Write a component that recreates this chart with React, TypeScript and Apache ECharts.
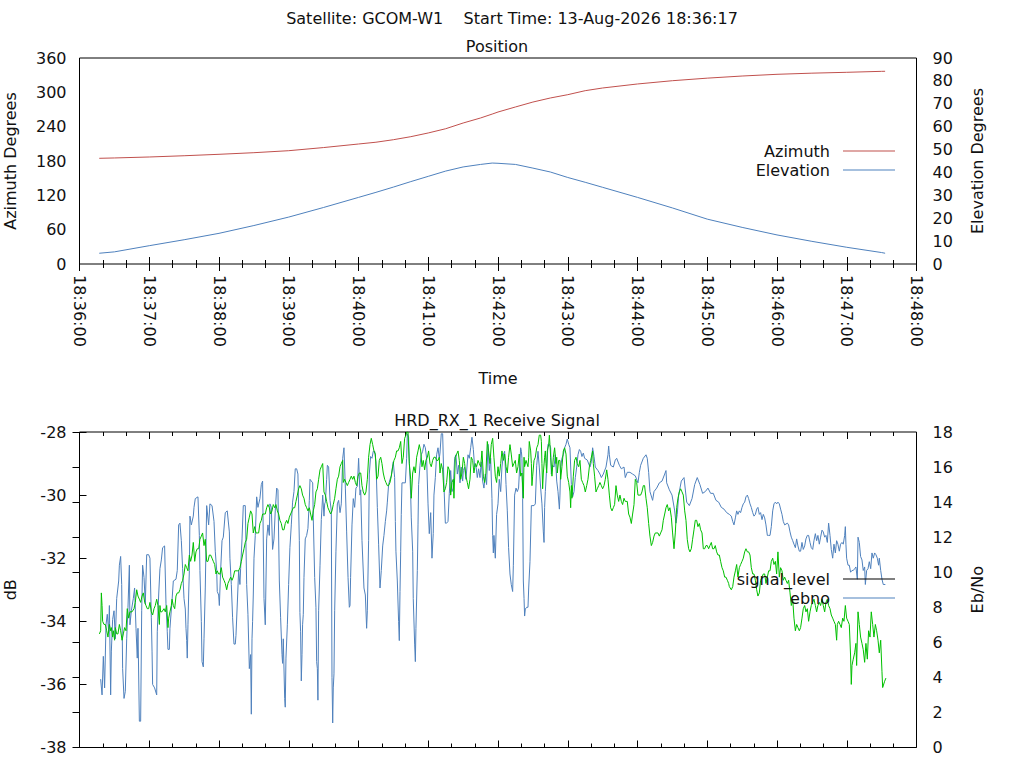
import React, { useEffect, useRef } from 'react';
import * as echarts from 'echarts';

// ---------- data ----------
const MAIN_TITLE = 'Satellite: GCOM-W1    Start Time: 13-Aug-2026 18:36:17';
const TOP_TITLE = 'Position';
const BOTTOM_TITLE = 'HRD_RX_1 Receive Signal';

// seconds after 18:36:00
const POS_TIMES = [17, 30, 60, 90, 120, 150, 180, 210, 240, 255, 270, 285, 300, 315, 330, 345, 355, 360, 375, 390, 405, 420, 435, 450, 480, 510, 540, 570, 600, 630, 660, 690, 693];
const AZIMUTH = [184.7, 185.3, 187.0, 189.2, 191.7, 194.5, 198.0, 203.5, 209.7, 212.8, 217.2, 222.5, 229.0, 236.4, 246.4, 255.2, 262.0, 265.6, 274.4, 283.0, 290.1, 295.9, 302.9, 307.6, 314.6, 320.3, 324.8, 328.5, 331.5, 333.5, 335.0, 336.7, 336.8];
const ELEVATION = [4.7, 5.3, 8.0, 10.6, 13.4, 16.8, 20.5, 24.7, 29.1, 31.3, 33.6, 36.0, 38.3, 40.6, 42.4, 43.5, 44.1, 44.0, 43.5, 41.9, 40.2, 37.8, 35.7, 33.5, 29.1, 24.5, 19.6, 16.0, 12.7, 9.9, 7.3, 5.0, 4.7];

const X_TICKS_SECONDS = [0, 720, 60]; // min, max, step
const AZ_AXIS = [0, 360, 60];
const EL_AXIS = [0, 90, 10];
const DB_AXIS = [-38, -28, 2];
const EBNO_AXIS = [0, 18, 2];

// [seconds after 18:36:00, Eb/No]
const EBNO_POINTS: [number, number][] = [
  [18.2,3.9],[19.4,3.0],[20.5,5.2],[21.6,3.4],[22.8,7.0],[23.9,7.6],[25.1,6.6],[25.7,8.1],[26.8,3.0],[27.4,5.5],[28.5,7.3],[29.7,7.8],[30.8,6.2],[32.0,8.5],[33.7,9.5],[34.3,10.4],[35.4,10.9],[36.3,9.3],[37.1,4.5],[38.3,2.8],[39.4,3.2],[40.6,6.2],[41.7,8.0],[42.9,10.4],[43.4,7.0],[44.6,7.8],[46.3,8.5],[47.4,9.1],[48.6,6.8],[49.7,5.1],[50.3,6.8],[51.5,1.5],[52.6,1.5],[53.5,7.8],[54.3,10.4],[55.5,9.7],[56.6,8.2],[57.8,11.0],[59.5,11.0],[60.6,10.8],[61.8,7.4],[62.4,5.5],[62.9,3.6],[64.6,3.4],[66.4,3.0],[66.9,6.6],[68.1,8.7],[69.2,10.2],[70.4,10.7],[71.5,11.4],[73.2,11.5],[74.4,8.2],[75.5,6.6],[76.1,5.6],[77.3,5.6],[77.8,6.8],[79.6,8.4],[80.7,9.5],[83.0,9.6],[84.1,10.1],[85.3,12.7],[86.4,12.8],[87.6,11.8],[88.7,10.2],[89.9,8.5],[91.0,7.9],[91.6,6.8],[92.2,6.1],[92.7,5.1],[93.3,7.0],[93.9,8.7],[94.5,10.1],[95.0,13.2],[96.2,12.7],[97.9,13.2],[98.5,13.7],[99.6,14.2],[101.9,14.3],[103.1,12.1],[103.6,10.1],[104.8,7.2],[105.4,4.9],[106.5,4.6],[107.1,6.2],[108.2,9.1],[109.4,13.8],[111.1,12.7],[112.2,13.9],[114.0,13.8],[115.7,12.9],[116.8,11.2],[118.0,10.1],[118.5,8.9],[119.7,8.7],[120.3,8.1],[121.4,10.1],[122.6,11.8],[123.7,12.0],[125.4,13.4],[127.1,13.5],[128.9,12.3],[129.4,10.8],[130.6,9.3],[131.7,7.4],[132.9,5.9],[134.0,5.9],[134.6,6.4],[135.8,8.3],[136.9,10.1],[138.0,9.3],[138.6,10.2],[139.8,11.9],[140.9,13.8],[142.6,13.8],[143.8,9.3],[144.9,7.6],[146.1,4.5],[147.2,5.3],[147.8,1.9],[148.4,6.2],[148.9,7.2],[149.5,8.7],[150.1,10.8],[151.2,12.1],[152.4,14.3],[153.5,13.7],[155.2,14.2],[156.4,15.0],[157.5,15.2],[158.7,8.5],[159.8,7.0],[161.0,11.9],[162.1,12.7],[163.3,12.1],[163.8,13.9],[165.0,13.7],[166.1,11.3],[167.3,11.9],[168.4,13.5],[169.6,14.8],[170.7,14.7],[171.9,9.5],[173.0,7.4],[174.2,5.3],[174.7,4.8],[175.3,6.2],[176.5,2.8],[177.0,2.3],[177.6,5.1],[178.8,7.0],[179.9,9.3],[181.0,11.4],[182.2,12.7],[183.3,14.0],[184.5,14.6],[185.6,15.9],[186.8,15.9],[187.9,15.6],[189.1,11.8],[189.6,7.7],[190.2,6.6],[190.8,3.8],[191.4,5.3],[191.9,7.0],[192.5,7.6],[193.1,9.7],[194.2,11.9],[195.4,12.1],[196.5,12.5],[197.7,14.1],
  [198.3,15.3],[199.4,15.2],[200.6,15.1],[201.1,13.1],[202.3,9.7],[203.4,8.0],[204.0,4.9],[204.6,4.5],[205.1,2.7],[205.7,7.8],[206.9,10.4],[208.0,13.0],[209.2,14.4],[210.3,13.2],[210.9,13.9],[211.5,14.0],[212.6,15.3],[213.2,16.1],[214.3,16.0],[215.5,14.1],[216.6,13.5],[217.2,4.0],[217.8,1.4],[218.3,3.4],[218.9,4.2],[219.5,7.8],[220.6,11.2],[221.8,13.9],[222.9,14.1],[224.1,13.4],[225.2,13.9],[226.4,16.5],[227.5,17.1],[228.7,14.8],[229.8,12.3],[231.0,9.7],[232.1,8.0],[232.7,8.1],[233.2,9.7],[234.4,12.7],[235.5,14.2],[236.7,13.7],[237.8,14.8],[239.0,14.9],[240.1,16.5],[241.3,14.4],[241.9,14.7],[243.0,11.8],[244.7,9.1],[245.9,8.7],[247.0,6.8],[247.6,7.8],[248.7,11.8],[249.3,15.6],[250.4,16.6],[251.6,16.5],[252.7,16.9],[253.9,16.9],[255.0,16.3],[256.2,13.7],[257.3,11.6],[258.5,9.1],[259.6,10.1],[260.8,11.5],[261.9,12.1],[263.1,12.9],[264.2,13.5],[264.8,14.0],[265.9,15.0],[267.1,15.3],[268.2,15.5],[269.9,16.3],[271.1,15.4],[271.7,12.9],[272.2,11.2],[273.4,9.5],[274.5,7.2],[275.1,6.1],[275.7,8.9],[276.3,11.2],[276.8,13.3],[277.4,15.1],[280.3,15.1],[281.4,16.5],[282.0,17.9],[283.1,17.7],[283.7,16.3],[284.9,14.4],[285.4,13.1],[286.6,11.2],[287.1,8.5],[288.3,5.9],[288.9,4.9],[289.4,6.8],[290.6,10.1],[291.2,12.7],[291.7,15.0],[292.9,16.1],[294.0,16.7],[295.2,16.9],[296.3,17.3],[297.5,17.1],[298.6,16.5],[299.8,13.9],[300.9,12.2],[302.1,13.4],[303.2,10.8],[304.3,12.2],[304.9,14.4],[306.1,15.4],[307.2,16.7],[308.4,17.1],[309.5,16.5],[310.1,16.8],[311.2,17.9],[312.4,17.9],[313.5,15.0],[314.7,12.8],[315.8,12.8],[317.0,12.9],[318.1,14.5],[319.3,15.8],[320.4,14.6],[321.5,14.8],[322.7,16.5],[323.8,16.7],[325.0,15.6],[326.1,16.1],[327.3,15.1],[328.4,16.0],[329.6,15.2],[330.2,15.8],[331.3,16.0],[332.4,15.3],[334.2,16.7],[335.3,16.5],[336.5,17.1],[337.6,17.7],[338.8,17.0],[339.9,16.0],[341.0,16.1],[342.2,15.4],[343.3,15.9],[344.5,15.4],[345.6,16.3],[346.8,15.2],[347.9,14.8],[349.1,15.6],[350.2,15.0],[351.4,17.3],[352.5,15.8],[353.7,16.5],[354.8,14.2],[355.4,12.1],[356.0,11.1],[356.5,12.1],[357.7,10.8],[358.8,13.3],[360.0,13.9],[361.1,15.3],[362.3,14.6],[363.4,16.0],[364.6,16.7],[365.7,16.9],[366.9,15.0],[368.0,13.5],[369.1,11.4],[370.3,9.9],[371.4,9.3],[372.6,8.9],[373.2,10.4],[374.3,14.4],[375.5,14.8],[376.6,14.6],[377.7,14.8],
  [379.5,17.1],[380.1,16.9],[380.6,16.5],[381.2,14.2],[381.8,9.5],[382.4,8.5],[382.9,7.5],[383.5,7.9],[384.7,8.0],[385.8,8.0],[386.4,9.1],[387.5,10.6],[388.7,13.8],[391.0,13.8],[392.1,13.9],[393.3,16.1],[394.4,16.9],[395.5,16.0],[396.7,14.8],[397.8,13.9],[399.0,12.3],[399.6,11.7],[400.1,13.7],[400.7,14.6],[401.9,16.0],[403.0,17.3],[404.2,17.3],[405.3,17.1],[405.9,15.6],[407.0,16.1],[408.2,16.0],[409.3,16.7],[410.5,15.2],[411.6,14.6],[412.8,13.6],[413.3,14.4],[413.9,16.0],[415.0,16.5],[416.2,16.7],[417.3,17.1],[418.5,17.3],[419.6,17.6],[420.8,17.3],[421.9,17.1],[423.1,15.0],[424.2,14.3],[425.4,14.6],[426.5,15.4],[427.7,16.0],[428.8,16.7],[430.0,17.0],[431.1,16.9],[432.2,16.6],[433.4,16.8],[434.5,16.5],[436.8,16.4],[439.1,16.0],[440.3,16.3],[441.4,17.1],[442.6,16.6],[443.7,16.0],[446.0,15.8],[447.7,15.6],[448.9,15.4],[450.6,15.6],[452.9,16.0],[454.6,16.7],[455.2,17.2],[455.8,16.7],[456.9,16.1],[459.2,16.0],[460.9,16.4],[462.1,16.5],[464.4,16.1],[466.1,15.9],[468.4,16.0],[469.5,15.4],[471.2,15.7],[473.5,15.7],[475.8,15.6],[478.1,15.5],[480.4,15.1],[481.6,15.7],[482.7,16.1],[485.0,16.5],[487.3,16.7],[488.4,16.5],[489.6,15.7],[490.7,14.6],[493.0,14.1],[494.2,14.6],[496.5,14.8],[498.8,15.1],[501.1,15.2],[503.4,15.6],[504.5,15.8],[505.1,15.1],[507.4,14.7],[509.7,14.4],[512.0,13.5],[513.1,12.8],[514.2,13.3],[515.4,14.4],[517.7,15.2],[520.0,15.4],[522.3,14.0],[524.6,13.8],[526.9,14.2],[529.2,15.0],[531.4,15.4],[533.7,15.0],[536.0,14.5],[538.3,14.6],[540.6,14.8],[542.9,14.5],[545.2,14.5],[547.5,14.1],[549.8,14.0],[552.1,13.7],[554.4,13.6],[556.7,13.4],[559.0,13.3],
  [560.7,13.2],[561.9,12.9],[563.0,12.7],[564.2,13.1],[565.3,13.5],[566.4,13.3],[567.6,13.5],[568.7,13.4],[569.9,13.7],[571.0,13.9],[572.2,14.0],[573.3,14.3],[574.5,14.4],[575.6,14.2],[576.8,13.9],[577.9,13.7],[579.1,13.4],[580.2,13.2],[581.4,13.3],[582.5,13.6],[583.6,13.7],[584.8,13.3],[585.9,13.4],[587.1,13.0],[588.2,13.3],[589.4,13.1],[590.5,12.7],[591.7,12.1],[592.8,12.1],[594.0,12.1],[595.1,12.6],[596.3,13.5],[597.4,13.9],[598.6,14.0],[599.7,13.9],[600.8,14.0],[602.0,13.9],[603.1,13.6],[604.3,13.3],[605.4,12.9],[606.6,12.7],[608.9,12.8],[610.0,12.7],[611.2,12.3],[612.3,12.0],[613.5,11.8],[614.6,11.6],[615.8,11.4],[616.9,11.9],[618.0,11.5],[619.2,11.2],[620.3,11.2],[621.5,11.7],[622.6,11.3],[623.8,11.5],[624.9,11.9],[626.1,12.1],[627.2,12.1],[628.4,11.7],[629.5,11.4],[630.7,11.3],[631.8,11.8],[633.0,12.2],[634.1,11.8],[635.2,12.1],[636.4,11.6],[637.5,12.0],[638.7,12.4],[639.8,12.3],[641.0,12.0],[642.1,12.1],[643.3,11.7],[644.4,12.8],[645.6,12.1],[646.7,11.3],[647.9,10.8],[649.0,11.6],[650.2,11.1],[651.3,11.8],[652.4,11.6],[653.6,11.2],[654.7,11.6],[655.9,11.7],[657.0,11.6],[658.2,12.1],[658.8,12.6],[659.3,11.6],[659.9,10.8],[661.1,10.4],[662.2,10.4],[663.3,10.0],[664.5,10.1],[665.6,10.1],[666.8,10.2],[667.9,10.3],[669.1,9.6],[669.7,12.0],[670.8,11.7],[671.9,10.9],[673.1,10.7],[674.2,10.1],[675.4,10.3],[676.0,9.3],[677.1,10.1],[678.3,10.2],[679.4,10.6],[680.6,10.2],[681.7,11.1],[682.8,10.8],[684.0,11.1],[685.1,11.0],[686.3,10.8],[687.4,10.4],[688.0,10.8],[689.2,10.1],[690.3,9.6],[691.4,9.3],[693.2,9.3]
];

// [seconds after 18:36:00, signal level dB]
const SIGNAL_POINTS: [number, number][] = [
  [17.1,-34.4],[18.2,-34.3],[18.8,-33.1],[19.4,-33.5],[19.9,-34.0],[21.1,-34.1],[22.2,-34.1],[23.4,-34.3],[24.5,-34.5],[25.7,-34.1],[26.8,-34.3],[27.4,-34.2],[28.5,-34.5],[29.1,-34.3],[30.2,-34.6],[30.8,-34.2],[32.0,-34.4],[33.1,-34.4],[34.3,-34.1],[35.4,-34.3],[36.6,-34.6],[37.7,-34.4],[38.8,-34.2],[40.0,-34.3],[41.1,-33.6],[42.3,-33.9],[43.4,-33.7],[45.2,-33.7],[46.9,-33.6],[48.0,-33.4],[49.2,-33.0],[50.3,-33.2],[51.5,-33.3],[52.6,-33.4],[53.8,-33.2],[54.9,-33.1],[56.1,-33.4],[57.2,-33.5],[58.3,-33.6],[59.5,-33.6],[60.6,-33.4],[61.8,-33.7],[62.9,-33.8],[64.1,-33.6],[65.2,-33.5],[66.4,-33.3],[67.5,-33.5],[68.7,-34.1],[69.2,-33.5],[69.8,-33.7],[70.9,-33.7],[72.7,-33.6],[73.8,-33.7],[75.0,-33.5],[76.1,-34.2],[76.7,-33.9],[77.8,-33.7],[79.0,-33.5],[79.6,-33.3],[80.7,-33.5],[81.9,-33.6],[83.0,-33.2],[84.1,-33.1],[85.3,-33.1],[86.4,-33.0],[87.6,-32.8],[88.7,-32.7],[89.9,-32.5],[91.0,-32.2],[92.2,-32.3],[93.3,-32.4],[94.5,-31.9],[95.6,-32.1],[96.8,-31.9],[97.9,-31.5],[99.1,-32.1],[100.2,-31.8],[101.3,-31.7],[102.5,-31.7],[103.6,-31.4],[104.8,-31.3],[105.9,-31.2],[107.1,-31.6],[108.2,-31.4],[109.4,-32.1],[110.5,-32.1],[111.7,-31.9],[112.8,-31.9],[114.0,-32.0],[115.1,-32.1],[116.3,-32.2],[117.4,-32.5],[118.5,-32.4],[119.7,-32.5],[120.8,-32.5],[122.0,-32.3],[123.1,-32.6],[124.3,-32.7],[125.4,-32.8],[126.6,-33.0],[127.7,-32.8],[128.9,-32.7],[130.0,-32.6],[131.2,-32.7],[132.3,-32.6],[133.5,-32.4],[134.6,-32.4],[135.8,-32.4],[136.9,-32.4],[138.0,-32.3],[139.2,-32.1],[140.3,-31.9],[141.5,-31.7],[142.6,-31.5],[143.8,-31.4],[144.9,-30.9],[146.1,-30.7],[147.2,-30.5],[148.4,-30.6],[149.5,-31.2],[150.7,-31.0],[151.8,-31.2],[153.0,-31.2],[154.1,-31.2],[155.2,-30.9],[156.4,-30.8],[157.5,-30.6],[158.7,-30.6],[159.8,-30.6],[161.0,-30.4],[162.1,-30.3],[163.3,-30.4],[164.4,-30.6],[165.6,-30.5],[166.7,-30.3],[167.9,-30.4],[169.0,-30.3],[170.2,-30.5],[171.3,-30.6],[172.4,-30.8],[173.6,-30.9],[174.7,-31.1],[175.9,-31.1],[177.0,-30.9],[178.2,-30.8],[179.3,-30.9],[180.5,-30.7],[181.6,-30.6],[182.8,-30.5],[183.9,-30.4],[185.1,-30.4],[186.2,-30.2],[187.4,-30.0],[188.5,-29.8],[189.6,-29.7],[190.8,-29.8],[191.9,-30.0],[193.1,-30.1],[194.2,-30.3],[195.4,-30.4],[196.5,-30.5],[197.7,-30.4],
  [198.8,-30.6],[200.0,-30.8],[201.1,-30.5],[202.3,-30.3],[203.4,-29.9],[204.6,-29.8],[205.7,-29.5],[206.9,-29.2],[208.0,-29.1],[209.2,-29.0],[210.3,-29.9],[211.5,-30.0],[212.6,-30.2],[213.7,-30.4],[214.9,-30.5],[216.0,-30.6],[217.2,-30.5],[218.3,-30.3],[219.5,-30.1],[220.6,-29.8],[221.8,-29.5],[222.9,-29.4],[224.1,-29.1],[225.2,-29.0],[226.4,-28.9],[226.9,-29.6],[228.1,-29.5],[229.2,-29.6],[230.4,-29.7],[231.5,-29.6],[232.7,-29.5],[233.8,-29.4],[235.0,-29.5],[236.1,-29.4],[237.3,-29.6],[238.4,-29.7],[239.6,-29.4],[240.7,-29.3],[241.9,-29.3],[243.0,-29.7],[244.1,-29.9],[245.3,-30.0],[246.4,-29.9],[247.6,-29.5],[248.7,-28.8],[249.9,-28.4],[251.0,-28.2],[252.2,-28.4],[253.3,-28.6],[254.5,-28.7],[255.6,-29.5],[256.8,-29.4],[257.9,-28.9],[259.1,-28.8],[260.2,-29.0],[261.3,-29.3],[262.5,-29.5],[263.6,-29.6],[264.8,-29.7],[265.9,-29.7],[267.1,-29.6],[268.2,-29.4],[269.4,-29.1],[270.5,-28.9],[271.7,-28.8],[272.8,-28.6],[274.0,-28.6],[275.1,-28.5],[276.3,-28.3],[277.4,-29.0],[278.5,-28.8],[279.7,-28.2],[280.8,-28.1],[281.4,-28.0],[282.6,-28.0],[283.7,-29.0],[284.9,-29.5],[285.4,-30.1],[286.6,-29.3],[287.7,-29.1],[288.9,-29.3],[290.0,-28.8],[291.2,-28.6],[292.3,-28.4],[293.5,-28.6],[294.6,-29.1],[295.7,-28.9],[296.9,-29.2],[298.0,-28.9],[299.2,-28.8],[300.3,-28.6],[301.5,-29.0],[302.6,-29.1],[303.8,-28.9],[304.9,-28.8],[306.1,-28.8],[307.2,-28.9],[308.4,-28.9],[309.5,-28.8],[310.1,-29.3],[311.2,-29.0],[312.4,-29.2],[313.5,-29.9],[314.7,-29.8],[315.8,-29.6],[317.0,-29.1],[318.1,-29.2],[319.3,-30.0],[320.4,-29.6],[321.5,-29.5],[322.1,-30.1],[323.3,-28.8],[324.4,-28.7],[325.6,-28.6],[326.7,-28.9],[327.9,-29.5],[329.0,-29.3],[330.2,-28.8],[331.3,-29.0],[332.4,-29.4],[333.6,-29.6],[334.7,-29.8],[335.9,-29.5],[337.0,-28.8],[338.2,-28.9],[339.3,-29.3],[340.5,-29.0],[341.6,-29.1],[342.8,-28.9],[343.9,-29.0],[345.1,-29.1],[346.2,-28.6],[347.4,-29.4],[348.5,-29.6],[349.6,-29.3],[350.8,-28.3],[351.9,-28.6],[353.1,-29.0],[354.2,-28.4],[355.4,-28.2],[356.5,-28.8],[357.7,-29.4],[358.8,-29.6],[360.0,-29.1],[361.1,-29.4],[362.3,-29.0],[363.4,-28.6],[364.6,-28.9],[365.7,-28.7],[366.9,-29.1],[368.0,-29.3],[369.1,-28.8],[370.3,-28.4],[371.4,-28.7],[372.6,-29.1],[373.7,-29.0],[374.9,-28.9],[376.0,-29.3],[377.2,-29.1],[378.3,-28.7],
  [379.5,-29.4],[380.6,-29.3],[381.8,-30.1],[382.4,-28.8],[382.9,-29.1],[384.1,-28.9],[385.8,-29.1],[386.4,-28.8],[386.9,-28.3],[388.1,-28.6],[388.7,-29.0],[389.2,-29.7],[389.8,-29.4],[391.0,-28.9],[392.1,-28.8],[393.3,-28.5],[394.4,-28.4],[395.5,-28.1],[396.7,-28.1],[397.3,-28.3],[397.8,-29.0],[398.4,-29.8],[399.0,-29.3],[400.1,-28.8],[400.7,-28.6],[401.3,-29.0],[401.9,-29.3],[402.4,-28.6],[403.6,-28.4],[404.2,-28.1],[404.7,-28.4],[405.3,-28.8],[406.4,-29.4],[407.6,-28.8],[408.7,-28.5],[409.9,-29.0],[410.5,-28.8],[411.0,-29.3],[412.2,-28.9],[413.3,-28.9],[413.9,-29.5],[415.0,-29.1],[416.2,-28.6],[417.3,-28.5],[418.5,-28.7],[419.6,-29.4],[420.8,-29.6],[421.9,-29.9],[422.5,-30.4],[423.1,-29.7],[423.6,-30.1],[424.8,-29.4],[425.9,-28.9],[427.1,-28.8],[428.2,-29.0],[429.4,-29.1],[430.5,-28.9],[431.7,-29.5],[432.8,-29.6],[434.0,-29.7],[435.1,-29.9],[436.3,-29.7],[437.4,-29.5],[438.6,-29.1],[439.7,-28.9],[440.9,-28.7],[441.4,-28.6],[442.0,-29.0],[443.1,-29.4],[444.3,-29.9],[445.4,-29.8],[446.6,-29.7],[447.7,-29.6],[448.9,-29.7],[450.0,-29.8],[451.2,-29.7],[452.3,-29.5],[453.5,-29.2],[454.6,-29.5],[455.8,-30.0],[456.9,-30.4],[458.1,-30.5],[459.2,-30.4],[460.3,-30.3],[461.5,-29.7],[462.6,-30.0],[463.8,-30.2],[464.9,-30.0],[466.1,-30.2],[467.2,-30.3],[468.4,-30.1],[469.5,-30.2],[471.2,-30.2],[472.4,-30.6],[473.5,-30.7],[474.7,-30.9],[475.8,-30.6],[477.0,-30.3],[478.1,-29.5],[479.3,-29.6],[480.4,-30.0],[482.7,-30.0],[483.8,-29.9],[485.0,-29.7],[486.1,-29.7],[487.3,-30.1],[488.4,-30.4],[489.6,-30.9],[490.7,-31.3],[491.9,-31.6],[493.0,-31.5],[494.2,-31.3],[495.3,-31.2],[497.6,-31.2],[498.8,-31.3],[499.9,-31.2],[501.1,-31.1],[502.2,-30.8],[503.4,-30.6],[504.5,-30.4],[505.6,-30.3],[506.8,-30.5],[507.9,-30.4],[509.1,-30.7],[510.2,-31.2],[511.4,-31.7],[512.5,-31.2],[513.7,-30.4],[514.8,-30.1],[516.0,-29.9],[517.1,-29.8],[518.3,-29.9],[519.4,-30.0],[520.6,-30.5],[521.7,-30.8],[522.8,-31.4],[524.0,-31.7],[525.1,-31.8],[526.3,-31.7],[527.4,-31.4],[528.6,-31.1],[529.7,-30.8],[530.9,-30.8],[532.0,-31.0],[533.2,-30.9],[534.3,-31.1],[535.5,-31.2],[536.6,-31.7],[537.8,-31.7],[538.9,-31.6],[540.0,-31.6],[541.2,-31.7],[542.3,-31.6],[543.5,-31.5],[544.6,-31.7],[545.8,-31.7],[546.9,-31.6],[548.1,-31.8],[549.2,-31.9],[550.4,-31.9],[551.5,-32.1],[552.7,-32.3],[553.8,-32.4],[555.0,-32.6],[556.1,-32.6],[557.3,-32.7],[558.4,-32.8],[559.0,-32.9],
  [560.7,-33.0],[561.9,-32.9],[563.0,-32.6],[564.2,-32.4],[565.3,-32.2],[566.4,-32.6],[567.6,-32.3],[568.7,-32.2],[569.9,-32.1],[571.0,-32.0],[572.2,-31.8],[573.3,-31.7],[574.5,-31.8],[575.6,-31.8],[576.8,-31.9],[577.9,-32.3],[579.1,-32.5],[580.2,-32.5],[581.4,-32.7],[582.5,-33.0],[583.6,-33.2],[584.8,-33.1],[585.9,-32.7],[587.1,-32.6],[588.2,-32.5],[589.4,-32.5],[590.5,-32.8],[591.7,-32.6],[592.8,-32.4],[594.0,-32.4],[595.1,-32.1],[596.3,-32.0],[597.4,-32.2],[598.6,-32.1],[599.7,-32.5],[600.8,-31.8],[602.0,-32.6],[603.1,-32.3],[604.3,-32.4],[605.4,-32.7],[606.6,-32.6],[607.7,-32.7],[608.9,-32.8],[610.0,-32.7],[611.2,-33.1],[612.3,-33.5],[613.5,-33.3],[614.6,-33.9],[615.8,-34.3],[616.9,-34.1],[618.0,-34.2],[619.2,-34.3],[620.3,-34.2],[621.5,-33.9],[622.6,-33.6],[623.8,-33.5],[624.9,-33.7],[626.1,-33.6],[627.2,-34.0],[628.4,-33.7],[629.5,-33.5],[630.7,-33.4],[631.8,-33.3],[633.0,-33.5],[634.1,-33.7],[635.2,-33.5],[636.4,-33.4],[637.5,-33.5],[638.7,-33.3],[639.8,-33.5],[641.0,-33.7],[642.1,-33.4],[643.3,-33.3],[644.4,-33.5],[645.6,-33.6],[646.7,-33.8],[647.9,-33.9],[649.0,-34.0],[650.2,-34.1],[651.3,-34.6],[651.9,-34.1],[653.0,-34.0],[654.2,-34.1],[655.3,-34.2],[656.5,-33.9],[657.6,-34.0],[658.8,-33.5],[659.9,-33.9],[661.1,-34.0],[662.2,-34.1],[663.3,-35.1],[663.9,-36.0],[664.5,-35.4],[665.6,-35.2],[666.8,-35.0],[667.9,-34.7],[668.5,-35.4],[669.7,-33.7],[670.8,-34.1],[671.9,-34.5],[673.1,-34.7],[674.2,-34.9],[675.4,-35.3],[676.5,-34.7],[677.7,-35.2],[678.8,-34.3],[680.0,-34.5],[681.1,-33.7],[682.3,-34.1],[683.4,-34.5],[684.6,-34.1],[685.7,-34.3],[686.9,-34.6],[688.0,-35.0],[689.2,-34.6],[690.3,-35.6],[690.9,-36.1],[691.4,-36.1],[692.6,-35.9],[693.7,-35.8]
];

// ---------- styling ----------
const FONT = 'DejaVu Sans';
const FS = 16;
const TXT = '#111';
const RED = '#c0504d';
const BLUE = '#4f81bd';
const GREEN = '#00c000';
const BASE_SECONDS = 18 * 3600 + 36 * 60;

const pad = (n: number) => (n < 10 ? '0' + n : '' + n);
const fmtTime = (v: number) => {
  const s = BASE_SECONDS + Math.round(v);
  return pad(Math.floor(s / 3600)) + ':' + pad(Math.floor((s % 3600) / 60)) + ':' + pad(s % 60);
};

const labelStyle = { color: TXT, fontSize: FS, fontFamily: FONT };
const tickStyle = { lineStyle: { color: '#000', width: 1 } };

function xAxis(gridIndex: number, position: 'top' | 'bottom', withLabels: boolean) {
  return {
    type: 'value',
    gridIndex,
    position,
    min: X_TICKS_SECONDS[0],
    max: X_TICKS_SECONDS[1],
    interval: X_TICKS_SECONDS[2],
    axisLine: { show: false },
    axisTick: { show: true, inside: true, length: 7, ...tickStyle },
    minorTick: { show: true, splitNumber: 3, length: 4, ...tickStyle },
    splitLine: { show: false },
    minorSplitLine: { show: false },
    axisLabel: withLabels
      ? { show: true, rotate: -90, margin: 11, formatter: fmtTime, ...labelStyle }
      : { show: false },
    ...(withLabels
      ? { name: 'Time', nameLocation: 'middle', nameGap: 106, nameTextStyle: labelStyle }
      : {}),
  };
}

function yAxis(gridIndex: number, position: 'left' | 'right', range: number[], name: string, gap: number, ticks: boolean, margin: number) {
  return {
    type: 'value',
    gridIndex,
    position,
    min: range[0],
    max: range[1],
    interval: range[2],
    axisLine: { show: false },
    axisTick: { show: ticks, inside: true, length: 7, ...tickStyle },
    splitLine: { show: false },
    axisLabel: { show: true, margin, ...labelStyle },
    name,
    nameLocation: 'middle',
    nameGap: gap,
    nameTextStyle: labelStyle,
  };
}

function legendItem(name: string, top: number, color?: string) {
  return {
    show: true,
    right: 129,
    top,
    orient: 'horizontal',
    align: 'right',
    padding: 0,
    itemGap: 0,
    itemWidth: 52,
    itemHeight: 1,
    icon: 'rect',
    selectedMode: false,
    textStyle: { ...labelStyle, padding: [0, 8, 0, 0] },
    data: [color ? { name, itemStyle: { color } } : { name }],
  };
}

function lineSeries(name: string, data: number[][], xAxisIndex: number, yAxisIndex: number, color: string) {
  return {
    name,
    type: 'line',
    xAxisIndex,
    yAxisIndex,
    data,
    showSymbol: false,
    symbol: 'none',
    lineStyle: { color, width: 1 },
    itemStyle: { color },
    emphasis: { disabled: true },
  };
}

export default function App() {
  const ref = useRef<HTMLDivElement>(null);

  useEffect(() => {
    if (!ref.current) return;
    const chart = echarts.init(ref.current, undefined, { renderer: 'svg' });
    const gridCommon = {
      left: 79.5,
      width: 837,
      show: true,
      borderColor: '#000',
      borderWidth: 1,
      backgroundColor: 'transparent',
      containLabel: false,
      outerBoundsMode: 'none',
    };
    const option: any = {
      animation: false,
      backgroundColor: '#fff',
      textStyle: { fontFamily: FONT },
      graphic: [
        { type: 'text', x: 512, y: 18, style: { text: MAIN_TITLE, align: 'center', verticalAlign: 'middle', fontSize: FS, fontFamily: FONT, fill: TXT } },
        { type: 'text', x: 497, y: 46, style: { text: TOP_TITLE, align: 'center', verticalAlign: 'middle', fontSize: FS, fontFamily: FONT, fill: TXT } },
        { type: 'text', x: 497, y: 420, style: { text: BOTTOM_TITLE, align: 'center', verticalAlign: 'middle', fontSize: FS, fontFamily: FONT, fill: TXT } },
      ],
      grid: [
        { ...gridCommon, top: 58, height: 206 },
        { ...gridCommon, top: 432, height: 315.5 },
      ],
      xAxis: [
        xAxis(0, 'bottom', true),
        xAxis(0, 'top', false),
        xAxis(1, 'bottom', false),
        xAxis(1, 'top', false),
      ],
      yAxis: [
        yAxis(0, 'left', AZ_AXIS, 'Azimuth Degrees', 61, false, 13),
        yAxis(0, 'right', EL_AXIS, 'Elevation Degrees', 53, false, 16),
        yAxis(1, 'left', DB_AXIS, 'dB', 61, true, 13),
        yAxis(1, 'right', EBNO_AXIS, 'Eb/No', 53, true, 16),
      ],
      legend: [
        legendItem('Azimuth', 143),
        legendItem('Elevation', 162),
        legendItem('signal_level', 571, '#000'),
        legendItem('ebno', 590),
      ],
      series: [
        lineSeries('Azimuth', POS_TIMES.map((t, i) => [t, AZIMUTH[i]]), 0, 0, RED),
        lineSeries('Elevation', POS_TIMES.map((t, i) => [t, ELEVATION[i]]), 0, 1, BLUE),
        lineSeries('ebno', EBNO_POINTS, 2, 3, BLUE),
        lineSeries('signal_level', SIGNAL_POINTS, 2, 2, GREEN),
      ],
    };
    chart.setOption(option);
    return () => chart.dispose();
  }, []);

  return (
    <div
      ref={ref}
      style={{ position: 'absolute', left: 0, top: 0, width: 1024, height: 768, background: '#fff' }}
    />
  );
}
